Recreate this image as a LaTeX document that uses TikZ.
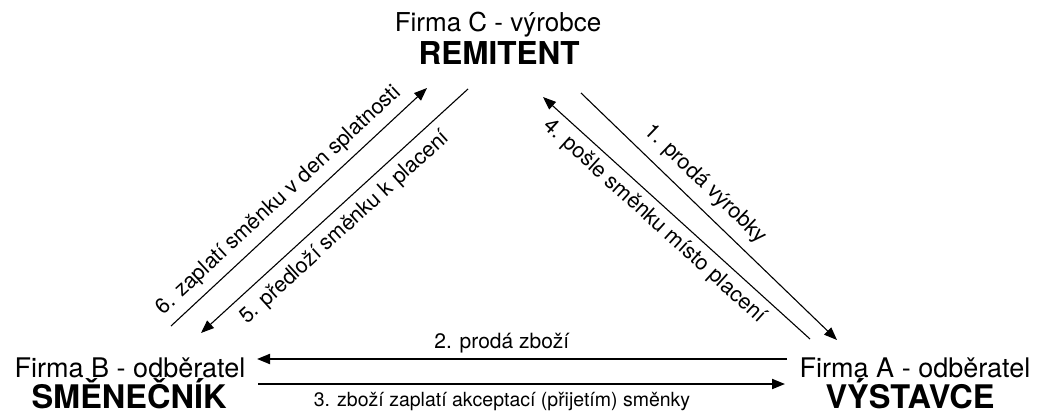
\documentclass[tikz,border=0pt]{standalone}
\usepackage{fontspec}
\setmainfont{TeX Gyre Heros}
\usetikzlibrary{arrows.meta}
\begin{document}
\begin{tikzpicture}[x=1pt,y=-1pt,
  >={Triangle[length=13pt,width=10pt]},
  lab/.style={font=\fontsize{21.5}{24}\selectfont, inner sep=0pt, anchor=base},
  smalllab/.style={font=\fontsize{19.5}{22}\selectfont, inner sep=0pt, anchor=base},
  firmtop/.style={font=\fontsize{26}{30}\selectfont, anchor=base, inner sep=0pt},
  firm/.style={font=\fontsize{27}{30}\selectfont, anchor=base, inner sep=0pt},
  roletop/.style={font=\fontsize{31.5}{36}\selectfont\bfseries, anchor=base, inner sep=0pt},
  role/.style={font=\fontsize{32.5}{36}\selectfont\bfseries, anchor=base, inner sep=0pt},
  diag/.style={line width=1.1pt},
  horiz/.style={line width=2pt}
]
\useasboundingbox (0,0) rectangle (1041,412);
% parties
\node[firmtop] (fc) at (498,32) {Firma C - výrobce};
\node[roletop] (rc) at (499,65) {REMITENT};
\node[firm] (fb) at (130,377) {Firma B - odběratel};
\node[role] (rb) at (129,408.5) {SMĚNEČNÍK};
\node[firm] (fa) at (915,377) {Firma A - odběratel};
\node[role] (ra) at (910,408.5) {VÝSTAVCE};
% connector end points
\coordinate (a6s) at (171,326);
\coordinate (a6e) at (427,88);
\coordinate (a5s) at (468,89);
\coordinate (a5e) at (201,333);
\coordinate (a4s) at (810,339);
\coordinate (a4e) at (543,97);
\coordinate (a1s) at (581,93);
\coordinate (a1e) at (837,340);
\coordinate (a2s) at (787,359);
\coordinate (a2e) at (257,359);
\coordinate (a3s) at (258,384);
\coordinate (a3e) at (785,384);
% connectors
\draw[diag,->] (a6s) -- node[lab, sloped, pos=0.47, yshift=13pt] {6. zaplatí směnku v den splatnosti} (a6e);
\draw[diag,<-] (a5e) -- node[lab, sloped, pos=0.49, yshift=-25pt] {5. předloží směnku k placení} (a5s);
\draw[diag,->] (a1s) -- node[lab, sloped, pos=0.43, yshift=15pt] {1. prodá výrobky} (a1e);
\draw[diag,<-] (a4e) -- node[lab, sloped, pos=0.46, yshift=-23pt] {4. pošle směnku místo placení} (a4s);
\draw[horiz,->] (a2s) -- node[lab, pos=0.538, yshift=11pt, font=\fontsize{21}{24}\selectfont] {2. prodá zboží} (a2e);
\draw[horiz,->] (a3s) -- node[smalllab, pos=0.463, yshift=-22pt] {3. zboží zaplatí akceptací (přijetím) směnky} (a3e);
\end{tikzpicture}
\end{document}
